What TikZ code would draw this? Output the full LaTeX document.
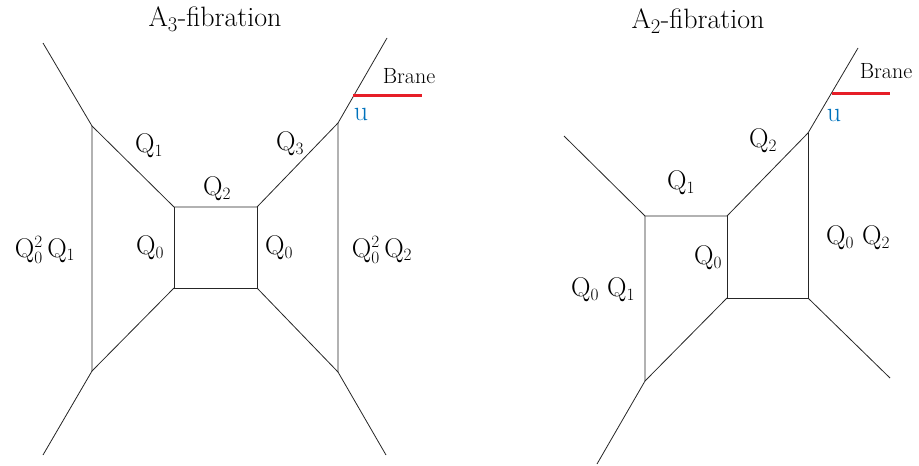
\documentclass[tikz,border=0pt]{standalone}
\begin{document}
\begin{tikzpicture}[x=1pt,y=-1pt,
  edge/.style={line width=0.8pt,black!85},
  brane/.style={line width=3pt,color={rgb,255:red,230;green,30;blue,40}},
  lab/.style={font=\fontsize{27}{31}\selectfont,inner sep=0pt},
  ttl/.style={font=\fontsize{28}{32}\selectfont,inner sep=0pt},
  bl/.style={font=\fontsize{22}{26}\selectfont,inner sep=0pt},
  ul/.style={font=\fontsize{28}{32}\selectfont,inner sep=0pt,text={rgb,255:red,0;green,114;blue,188}}]
\useasboundingbox (0,0) rectangle (919,466);
% ---------- A3 ----------
\coordinate (lA) at (92,126);
\coordinate (lB) at (92,371);
\coordinate (bTL) at (174,207);
\coordinate (bTR) at (257,207);
\coordinate (bBR) at (257,288);
\coordinate (bBL) at (174,288);
\coordinate (rA) at (338,123);
\coordinate (rB) at (338,372);
\coordinate (lT) at (43,43);
\coordinate (lD) at (43,455);
\coordinate (rT) at (387,38);
\coordinate (rD) at (386,455);
\coordinate (b1s) at (353,95);
\coordinate (b1e) at (422,95);
\draw[edge] (lT) -- (lA) -- (bTL) -- (bTR) -- (rA) -- (rT);
\draw[edge] (lA) -- (lB) -- (lD);
\draw[edge] (rA) -- (rB) -- (rD);
\draw[edge] (bTL) -- (bBL) -- (bBR) -- (bTR);
\draw[edge] (bBL) -- (lB);
\draw[edge] (bBR) -- (rB);
\draw[brane] (b1s) -- (b1e);
\node[ttl] (t1) at (215,19) {A$_3$-fibration};
\node[bl] (br1) at (409,76) {Brane};
\node[ul] (u1) at (361,114) {u};
\node[lab] (q1a) at (149,146) {Q$_1$};
\node[lab] (q3a) at (290,144) {Q$_3$};
\node[lab] (q2a) at (217,189) {Q$_2$};
\node[lab] (q0a) at (150,248) {Q$_0$};
\node[lab] (q0b) at (279,248) {Q$_0$};
\node[lab] (qla) at (45,250) {Q$_0^2$\,Q$_1$};
\node[lab] (qra) at (382,250) {Q$_0^2$\,Q$_2$};
% ---------- A2 ----------
\coordinate (sTL) at (564,136);
\coordinate (sA) at (645,216);
\coordinate (sB) at (727,216);
\coordinate (sC) at (727,298);
\coordinate (sD) at (808,298);
\coordinate (sE) at (808,133);
\coordinate (sF) at (645,381);
\coordinate (sT) at (858,48);
\coordinate (sBL) at (597,464);
\coordinate (sBR) at (890,378);
\coordinate (b2s) at (832,93);
\coordinate (b2e) at (890,93);
\draw[edge] (sTL) -- (sA) -- (sB) -- (sE) -- (sT);
\draw[edge] (sA) -- (sF) -- (sBL);
\draw[edge] (sB) -- (sC) -- (sD) -- (sE);
\draw[edge] (sC) -- (sF);
\draw[edge] (sD) -- (sBR);
\draw[brane] (b2s) -- (b2e);
\node[ttl] (t2) at (698,21) {A$_2$-fibration};
\node[bl] (br2) at (886,71) {Brane};
\node[ul] (u2) at (834,115) {u};
\node[lab] (q1b) at (681,183) {Q$_1$};
\node[lab] (q2b) at (763,141) {Q$_2$};
\node[lab] (q0c) at (708,258) {Q$_0$};
\node[lab] (qlb) at (603,290) {Q$_0$ Q$_1$};
\node[lab] (qrb) at (858,238) {Q$_0$ Q$_2$};
\end{tikzpicture}
\end{document}
